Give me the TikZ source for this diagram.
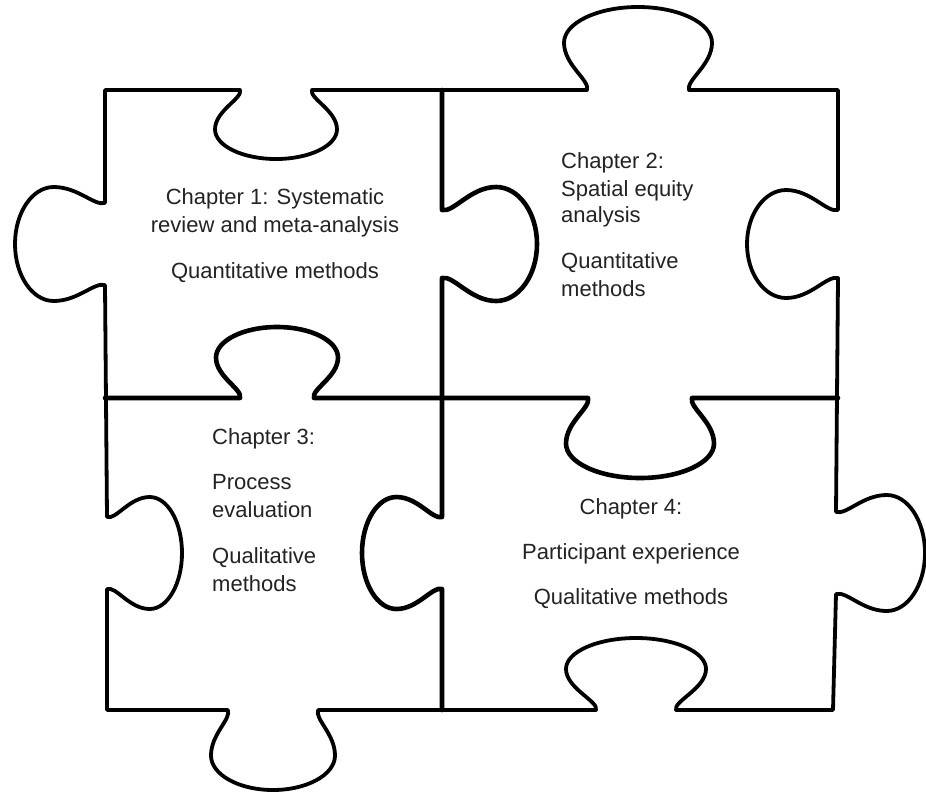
\documentclass[tikz,border=0pt]{standalone}
\usepackage{fontspec}
\setmainfont{Liberation Sans}
\definecolor{txt}{RGB}{35,35,35}
% horizontal knob: #1 centre x, #2 edge y, #3 direction (+1 down, -1 up), #4 traversal (+1 left->right, -1 right->left), #5 neck half, #6 bulge half, #7 depth
\newcommand\hknob[7]{%
 -- ({#1-(#4)*(#5)},{#2})
 .. controls ({#1-(#4)*(#5-3)},{#2+(#3)*0.12*(#7)}) and ({#1-(#4)*(#6)},{#2+(#3)*0.3*(#7)}) .. ({#1-(#4)*(#6)},{#2+(#3)*0.57*(#7)})
 .. controls ({#1-(#4)*(#6)},{#2+(#3)*0.807*(#7)}) and ({#1-(#4)*0.552*(#6)},{#2+(#3)*(#7)}) .. ({#1},{#2+(#3)*(#7)})
 .. controls ({#1+(#4)*0.552*(#6)},{#2+(#3)*(#7)}) and ({#1+(#4)*(#6)},{#2+(#3)*0.807*(#7)}) .. ({#1+(#4)*(#6)},{#2+(#3)*0.57*(#7)})
 .. controls ({#1+(#4)*(#6)},{#2+(#3)*0.3*(#7)}) and ({#1+(#4)*(#5-3)},{#2+(#3)*0.12*(#7)}) .. ({#1+(#4)*(#5)},{#2})}
% vertical knob: #1 centre y, #2 edge x, #3 direction (+1 right, -1 left), #4 traversal (+1 downwards, -1 upwards), #5 neck half, #6 bulge half, #7 depth
\newcommand\vknob[7]{%
 -- ({#2},{#1-(#4)*(#5)})
 .. controls ({#2+(#3)*0.12*(#7)},{#1-(#4)*(#5-3)}) and ({#2+(#3)*0.3*(#7)},{#1-(#4)*(#6)}) .. ({#2+(#3)*0.57*(#7)},{#1-(#4)*(#6)})
 .. controls ({#2+(#3)*0.807*(#7)},{#1-(#4)*(#6)}) and ({#2+(#3)*(#7)},{#1-(#4)*0.552*(#6)}) .. ({#2+(#3)*(#7)},{#1})
 .. controls ({#2+(#3)*(#7)},{#1+(#4)*0.552*(#6)}) and ({#2+(#3)*0.807*(#7)},{#1+(#4)*(#6)}) .. ({#2+(#3)*0.57*(#7)},{#1+(#4)*(#6)})
 .. controls ({#2+(#3)*0.3*(#7)},{#1+(#4)*(#6)}) and ({#2+(#3)*0.12*(#7)},{#1+(#4)*(#5-3)}) .. ({#2},{#1+(#4)*(#5)})}
\begin{document}
\begin{tikzpicture}[x=1pt,y=-1pt,line join=round,line cap=round,
  outline/.style={line width=3.8pt},
  innerline/.style={line width=4.6pt},
  lbl/.style={font=\fontsize{22}{28}\selectfont,text=txt,inner sep=0pt,anchor=base},
  lblw/.style={lbl,anchor=base west}]
\fill[white] (0,0) rectangle (926,796);
\useasboundingbox (0,0) rectangle (926,796);
% outer outline
\draw[outline] (105,90)
  \hknob{276}{90}{1}{1}{36}{61}{69}
  \hknob{638}{90}{-1}{1}{51}{74}{83}
  -- (838,90)
  \vknob{244}{838}{-1}{1}{34}{54}{91}
  \vknob{553}{836}{1}{1}{41}{58}{89}
  -- (833,710)
  \hknob{636}{710}{-1}{-1}{40}{70}{72}
  \hknob{273}{710}{1}{-1}{45}{62}{80}
  -- (107,710)
  \vknob{553}{107}{1}{-1}{36}{56}{75}
  \vknob{244}{105}{-1}{-1}{41}{57}{90}
  -- cycle;
% interior joins
\draw[innerline] (105,398)
  \hknob{277}{398}{-1}{1}{37}{61}{71}
  \hknob{640}{398}{1}{1}{52}{74}{80}
  -- (838,398);
\draw[innerline] (442,90)
  \vknob{244}{442}{1}{1}{34}{57}{95}
  \vknob{553}{442}{-1}{1}{36}{56}{80}
  -- (442,710);
% texts
\node[lbl] (t1a) at (275,204) {Chapter 1: Systematic};
\node[lbl] (t1b) at (275,232) {review and meta-analysis};
\node[lbl] (t1c) at (275,278) {Quantitative methods};
\node[lblw] (t2a) at (561,168) {Chapter 2:};
\node[lblw] (t2b) at (561,196) {Spatial equity};
\node[lblw] (t2c) at (561,222) {analysis};
\node[lblw] (t2d) at (561,268) {Quantitative};
\node[lblw] (t2e) at (561,296) {methods};
\node[lblw] (t3a) at (212,444) {Chapter 3:};
\node[lblw] (t3b) at (212,489) {Process};
\node[lblw] (t3c) at (212,517) {evaluation};
\node[lblw] (t3d) at (212,563) {Qualitative};
\node[lblw] (t3e) at (212,591) {methods};
\node[lbl] (t4a) at (631,514) {Chapter 4:};
\node[lbl] (t4b) at (631,559) {Participant experience};
\node[lbl] (t4c) at (631,604) {Qualitative methods};
\end{tikzpicture}
\end{document}
